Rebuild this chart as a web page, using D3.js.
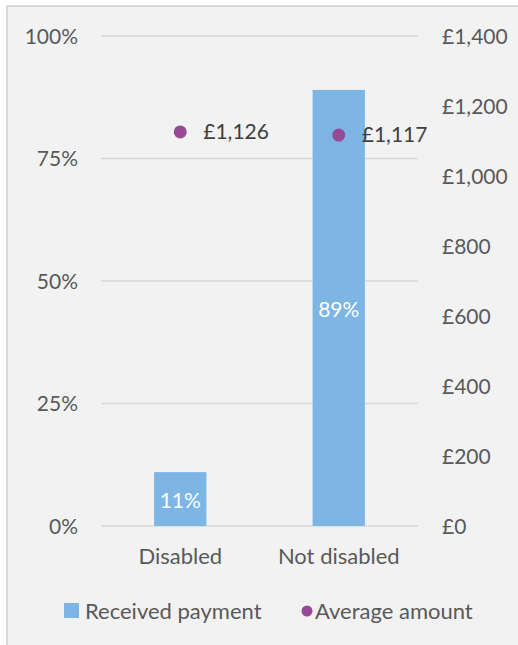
<!DOCTYPE html>
<html>
<head>
<meta charset="utf-8">
<script src="https://cdn.jsdelivr.net/npm/d3@7"></script>
<style>
  html, body { margin: 0; padding: 0; background: #ffffff; }
  svg { display: block; }
  text { font-family: Lato, "Noto Sans", sans-serif; }
</style>
</head>
<body>
<svg id="chart" width="518" height="645"></svg>
<script>
// Share of each group that received a payment, and the average amount paid
const categories = ["Disabled", "Not disabled"];
const receivedPayment = [0.11, 0.89];
const averageAmount = [1126, 1117];
const leftTicks = [0, 0.25, 0.5, 0.75, 1];
const rightTicks = [0, 200, 400, 600, 800, 1000, 1200, 1400];
const seriesNames = ["Received payment", "Average amount"];

const barColor = "#7db5e5";
const dotColor = "#994a96";
const textColor = "#595959";
const gridColor = "#d9d9d9";
const numSize = "21px";
const wordSize = "22px";

const svg = d3.select("#chart");

// Chart area frame
svg.append("rect")
  .attr("x", 7).attr("y", 6)
  .attr("width", 530).attr("height", 660)
  .attr("fill", "#f2f2f2")
  .attr("stroke", "#d9d9d9")
  .attr("stroke-width", 2);

const plot = { left: 101, right: 418, top: 36, bottom: 526 };

const x = d3.scaleBand()
  .domain(categories)
  .range([plot.left, plot.right])
  .paddingInner(0.67)
  .paddingOuter(0.335);

const yLeft = d3.scaleLinear().domain([0, 1]).range([plot.bottom, plot.top]);
const yRight = d3.scaleLinear().domain([0, 1400]).range([plot.bottom, plot.top]);

// Gridlines
svg.append("g")
  .selectAll("line")
  .data(leftTicks)
  .join("line")
  .attr("x1", plot.left).attr("x2", plot.right)
  .attr("y1", d => yLeft(d)).attr("y2", d => yLeft(d))
  .attr("stroke", gridColor)
  .attr("stroke-width", 1.5);

// Left axis (percent)
const leftAxis = svg.append("g")
  .attr("transform", `translate(${plot.left - 23},0)`)
  .call(d3.axisLeft(yLeft).tickValues(leftTicks).tickFormat(d3.format(".0%")).tickSize(0).tickPadding(0));
leftAxis.select(".domain").remove();
leftAxis.selectAll("text")
  .attr("fill", textColor)
  .style("font-size", numSize)
  .attr("dy", "0.35em");

// Right axis (pounds)
const poundFmt = d => "£" + d3.format(",")(d);
const rightAxis = svg.append("g")
  .attr("transform", `translate(${plot.right + 24},0)`)
  .call(d3.axisRight(yRight).tickValues(rightTicks).tickFormat(poundFmt).tickSize(0).tickPadding(0));
rightAxis.select(".domain").remove();
rightAxis.selectAll("text")
  .attr("fill", textColor)
  .style("font-size", numSize)
  .attr("dy", "0.35em");

// Category axis
const xAxis = svg.append("g")
  .attr("transform", `translate(0,${plot.bottom})`)
  .call(d3.axisBottom(x).tickSize(0).tickPadding(0));
xAxis.select(".domain").remove();
xAxis.selectAll("text")
  .attr("fill", textColor)
  .style("font-size", wordSize)
  .attr("y", 38)
  .attr("dy", 0);

// Bars
svg.append("g")
  .selectAll("rect")
  .data(categories)
  .join("rect")
  .attr("x", d => x(d))
  .attr("width", x.bandwidth())
  .attr("y", (d, i) => yLeft(receivedPayment[i]))
  .attr("height", (d, i) => yLeft(0) - yLeft(receivedPayment[i]))
  .attr("fill", barColor);

// Bar value labels
svg.append("g")
  .selectAll("text")
  .data(categories)
  .join("text")
  .attr("x", d => x(d) + x.bandwidth() / 2)
  .attr("y", (d, i) => (yLeft(receivedPayment[i]) + yLeft(0)) / 2 + 2)
  .attr("text-anchor", "middle")
  .attr("dy", "0.35em")
  .attr("fill", "#ffffff")
  .style("font-size", numSize)
  .text((d, i) => d3.format(".0%")(receivedPayment[i]));

// Average amount markers
svg.append("g")
  .selectAll("circle")
  .data(categories)
  .join("circle")
  .attr("cx", d => x(d) + x.bandwidth() / 2)
  .attr("cy", (d, i) => yRight(averageAmount[i]))
  .attr("r", 6.5)
  .attr("fill", dotColor);

svg.append("g")
  .selectAll("text")
  .data(categories)
  .join("text")
  .attr("x", d => x(d) + x.bandwidth() / 2 + 23)
  .attr("y", (d, i) => yRight(averageAmount[i]))
  .attr("dy", "0.35em")
  .attr("fill", "#404040")
  .style("font-size", numSize)
  .text((d, i) => poundFmt(averageAmount[i]));

// Legend
const legend = svg.append("g").attr("transform", "translate(0,611)");
legend.append("rect")
  .attr("x", 64).attr("y", -8)
  .attr("width", 15).attr("height", 15)
  .attr("fill", barColor);
legend.append("text")
  .attr("x", 85).attr("y", 0).attr("dy", "0.35em")
  .attr("fill", textColor)
  .style("font-size", wordSize)
  .text(seriesNames[0]);
legend.append("circle")
  .attr("cx", 307).attr("cy", 0)
  .attr("r", 5.5)
  .attr("fill", dotColor);
legend.append("text")
  .attr("x", 315).attr("y", 0).attr("dy", "0.35em")
  .attr("fill", textColor)
  .style("font-size", wordSize)
  .text(seriesNames[1]);
</script>
</body>
</html>
